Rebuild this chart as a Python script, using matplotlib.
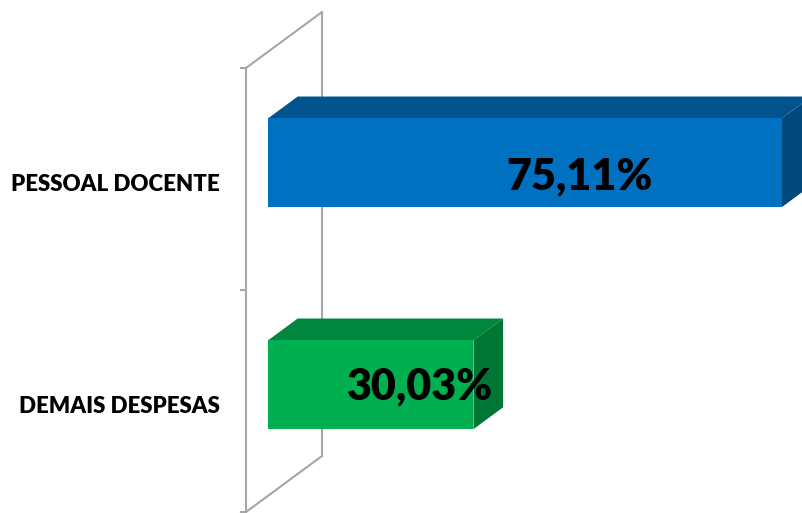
import matplotlib
matplotlib.use("Agg")
import matplotlib.pyplot as plt

# --- data ---
categories = ["DEMAIS DESPESAS", "PESSOAL DOCENTE"]
values = [30.03, 75.11]
value_labels = ["30,03%", "75,11%"]

# --- styling ---
front_colors = ["#00B050", "#0070C0"]
top_colors = ["#00873D", "#02548F"]
side_colors = ["#007634", "#01497D"]
label_shift = [10.4, 11.2]         # horizontal shift of value labels (value units)
label_drop = [-0.005, 0.045]       # baseline drop of value labels (category units)

W, H, DPI = 803, 513, 100
PX_PER_VAL = 6.84                  # horizontal pixels per percentage point
PX_PER_CAT = 222.0                 # vertical pixels per category slot
X0_PX, Y0_PX = 246.0, 512.0        # front-bottom corner of the wall
DEPTH_DX = 76.0 / PX_PER_VAL       # oblique depth offset (value units)
DEPTH_DY = 56.0 / PX_PER_CAT       # oblique depth offset (category units)
D_FRONT, D_BACK = 0.29, 0.68       # bar depth range inside the wall
HALF_H = 0.2                       # half bar thickness (category units)

plt.rcParams["font.family"] = ["Lato", "DejaVu Sans"]

fig = plt.figure(figsize=(W / DPI, H / DPI), dpi=DPI)
ax = fig.add_axes([0, 0, 1, 1])
ax.set_xlim(-X0_PX / PX_PER_VAL, (W - X0_PX) / PX_PER_VAL)
ax.set_ylim((Y0_PX - H) / PX_PER_CAT, Y0_PX / PX_PER_CAT)
ax.axis("off")


def proj(v, d, h):
    """Oblique projection of (value, depth, height) onto the axes plane."""
    return v + d * DEPTH_DX, h + d * DEPTH_DY


n = len(categories)
wall_color = "#A6A6A6"

# wall: front edge, back edge, top and bottom diagonals
for d in (0.0, 1.0):
    xs, ys = zip(proj(0, d, 0), proj(0, d, n))
    ax.plot(xs, ys, color=wall_color, lw=1.5, solid_capstyle="butt", zorder=1)
for h in (0, n):
    xs, ys = zip(proj(0, 0, h), proj(0, 1, h))
    ax.plot(xs, ys, color=wall_color, lw=1.5, zorder=1)
# tick marks on the front edge
for h in range(n + 1):
    x, y = proj(0, 0, h)
    ax.plot([x - 5 / PX_PER_VAL, x], [y, y], color=wall_color, lw=1.5, zorder=1)

# 3D bars
for i, (v, fc, tc, sc) in enumerate(zip(values, front_colors, top_colors, side_colors)):
    c = i + 0.5
    lo, hi = c - HALF_H, c + HALF_H
    front = [proj(0, D_FRONT, lo), proj(v, D_FRONT, lo), proj(v, D_FRONT, hi), proj(0, D_FRONT, hi)]
    top = [proj(0, D_FRONT, hi), proj(v, D_FRONT, hi), proj(v, D_BACK, hi), proj(0, D_BACK, hi)]
    side = [proj(v, D_FRONT, lo), proj(v, D_BACK, lo), proj(v, D_BACK, hi), proj(v, D_FRONT, hi)]
    for poly, col in ((top, tc), (side, sc), (front, fc)):
        xs, ys = zip(*poly)
        ax.fill(xs, ys, color=col, lw=0, zorder=3)

    # value label
    lx, ly = proj(v / 2 + label_shift[i], 0, c - label_drop[i])
    ax.text(lx, ly, value_labels[i], ha="center", va="baseline",
            fontsize=31, fontweight="heavy", color="black", zorder=5)

    # category label
    ax.text(-3.8, c - 0.055, categories[i], ha="right", va="baseline",
            fontsize=16, fontweight="heavy", color="black")

fig.savefig("out.png", dpi=DPI)
